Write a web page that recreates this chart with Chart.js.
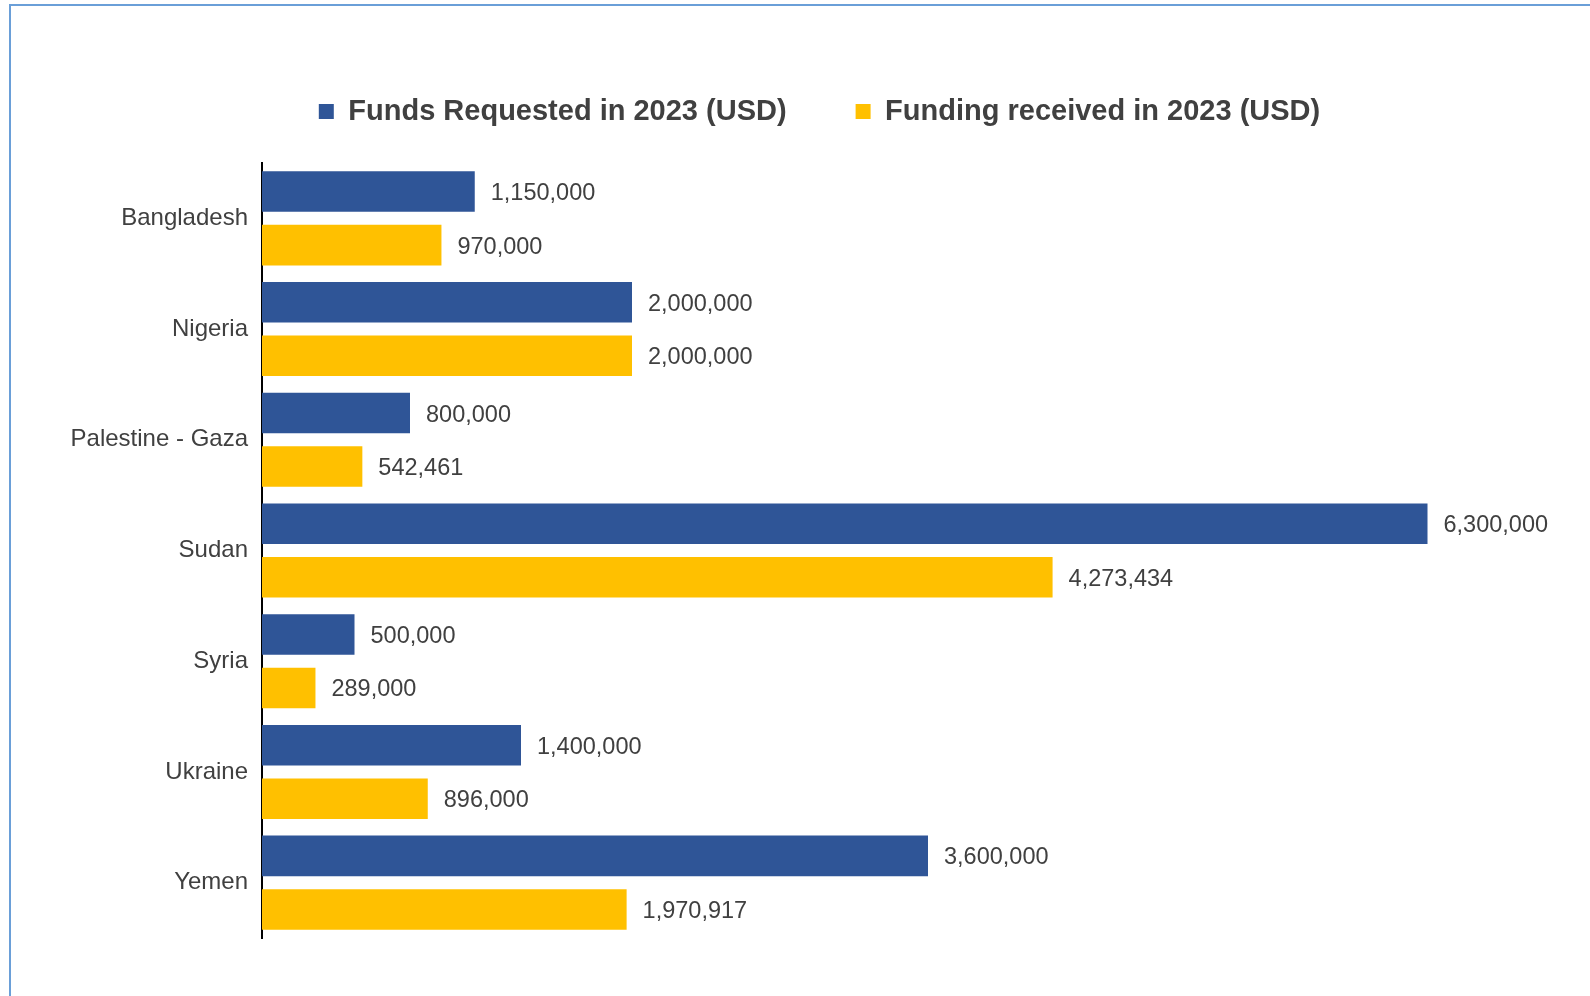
<!DOCTYPE html>
<html>
<head>
<meta charset="utf-8">
<title>Funds requested and received in 2023</title>
<script src="https://cdn.jsdelivr.net/npm/chart.js@4"></script>
<style>
  html, body { margin: 0; padding: 0; background: #fff; overflow: hidden; }
  #frame {
    position: absolute; left: 9px; top: 4px; width: 1700px; height: 1100px;
    border-top: 2px solid #6A9FD8; border-left: 2px solid #6A9FD8;
  }
  #wrap { position: absolute; left: 0; top: 0; width: 1590px; height: 996px; }
</style>
</head>
<body>
<div id="frame"></div>
<div id="wrap"><canvas id="fundsChart" width="1590" height="996"></canvas></div>
<script>
const countries = ["Bangladesh", "Nigeria", "Palestine - Gaza", "Sudan", "Syria", "Ukraine", "Yemen"];
const requested = [1150000, 2000000, 800000, 6300000, 500000, 1400000, 3600000];
const received = [970000, 2000000, 542461, 4273434, 289000, 896000, 1970917];
const xMax = 7000000;

const textColor = '#404040';
const fontFamily = "'Liberation Sans', Arial, sans-serif";

// value labels written just past the end of each bar
const barValues = {
  id: 'barValues',
  afterDatasetsDraw(chart) {
    const ctx = chart.ctx;
    ctx.save();
    ctx.font = '23.5px ' + fontFamily;
    ctx.fillStyle = textColor;
    ctx.textAlign = 'left';
    ctx.textBaseline = 'middle';
    chart.data.datasets.forEach((ds, i) => {
      chart.getDatasetMeta(i).data.forEach((bar, j) => {
        ctx.fillText(ds.data[j].toLocaleString('en-US'), bar.x + 16, bar.y + 2);
      });
    });
    ctx.restore();
  }
};

// leave some room between the legend and the bars,
// and centre the legend a bit right of the canvas middle
const legendTweak = {
  id: 'legendTweak',
  beforeInit(chart) {
    const fit = chart.legend.fit;
    chart.legend.fit = function () {
      fit.call(this);
      this.height += 27;
    };
  },
  afterLayout(chart) {
    chart.legend.left += 41;
    chart.legend.right += 41;
  }
};

new Chart(document.getElementById('fundsChart'), {
  type: 'bar',
  data: {
    labels: countries,
    datasets: [
      {
        label: 'Funds Requested in 2023 (USD)',
        data: requested,
        backgroundColor: '#2F5597'
      },
      {
        label: 'Funding received in 2023 (USD)',
        data: received,
        backgroundColor: '#FFC000'
      }
    ]
  },
  options: {
    indexAxis: 'y',
    responsive: false,
    animation: false,
    categoryPercentage: 0.967,
    barPercentage: 0.757,
    layout: { padding: { left: 0, right: 33, top: 28, bottom: 58 } },
    plugins: {
      legend: {
        position: 'top',
        labels: {
          boxWidth: 15,
          boxHeight: 15,
          padding: 69,
          color: textColor,
          font: { family: fontFamily, size: 29, weight: 'bold' }
        }
      },
      tooltip: { enabled: false }
    },
    scales: {
      x: {
        display: false,
        min: 0,
        max: xMax
      },
      y: {
        grid: { display: false, drawTicks: false },
        border: { display: true, color: '#000', width: 2 },
        ticks: {
          padding: 14,
          color: textColor,
          font: { family: fontFamily, size: 24 }
        },
        afterFit(scale) { scale.width = 262; }
      }
    }
  },
  plugins: [barValues, legendTweak]
});
</script>
</body>
</html>
